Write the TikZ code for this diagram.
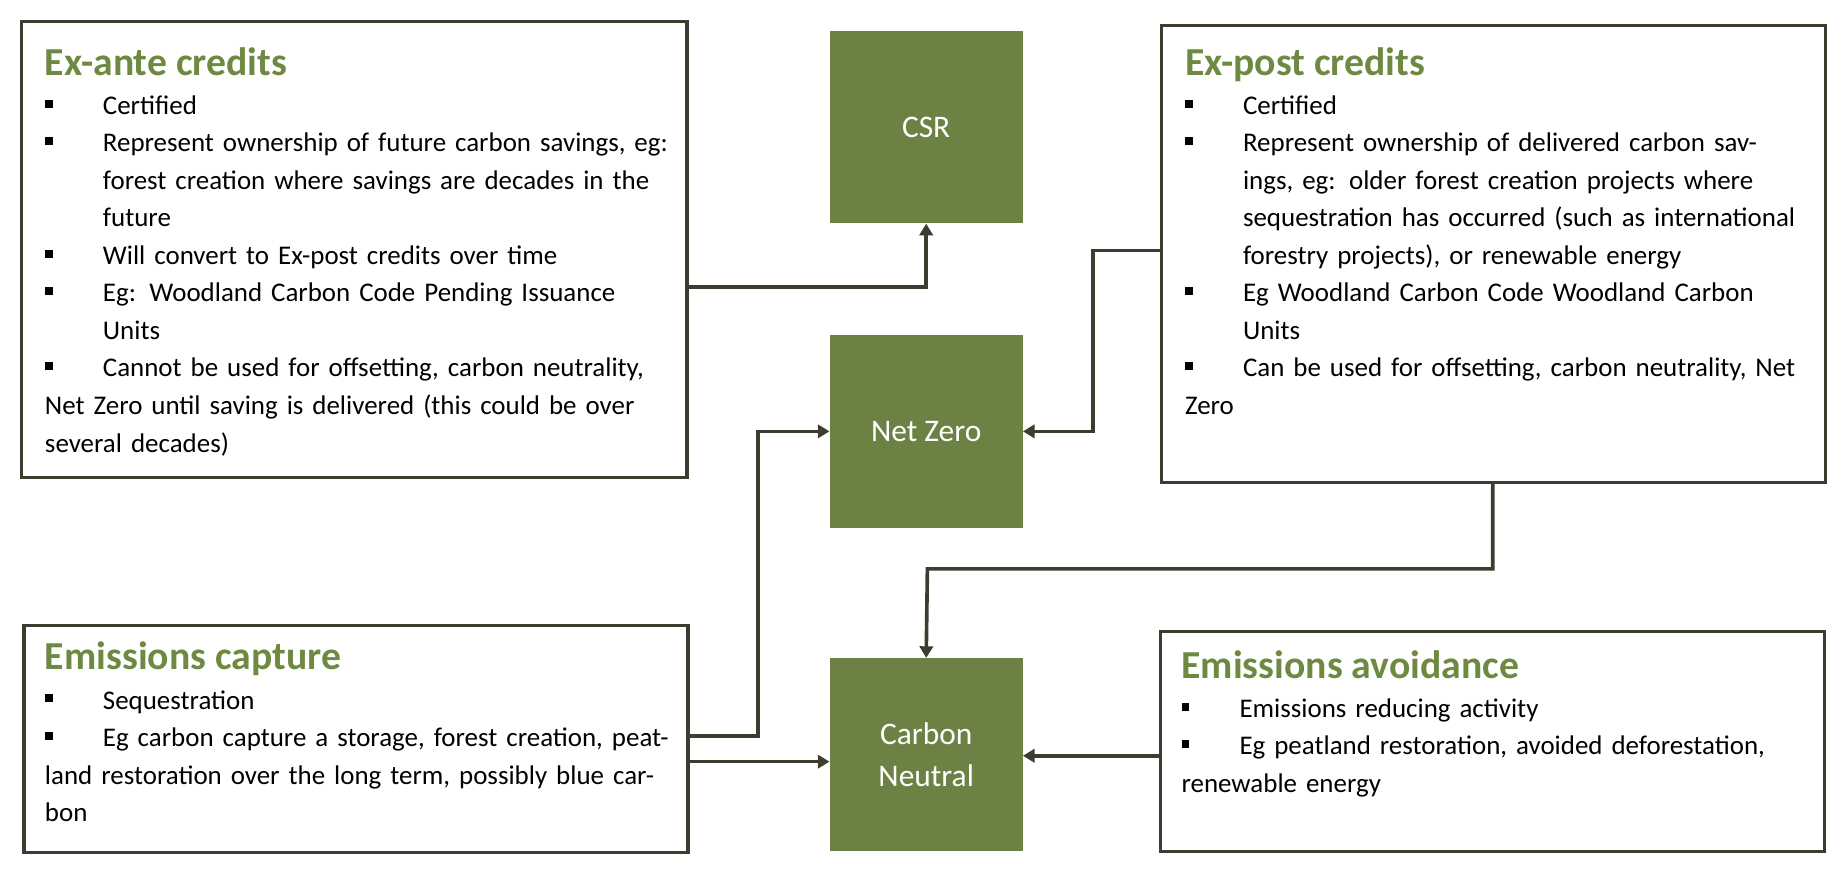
\documentclass[tikz,border=0pt]{standalone}
\usepackage{fontspec}
\setmainfont{Carlito}
\usetikzlibrary{arrows.meta, positioning, calc}
\definecolor{leaf}{RGB}{108,130,69}
\definecolor{leaftext}{RGB}{110,138,66}
\definecolor{bark}{RGB}{62,60,46}
\newcommand{\bitem}{\par\noindent\hangindent=2.15em\hangafter=1\makebox[2.15em][l]{\rule[0.25em]{0.28em}{0.3em}}}
\newcommand{\boxtitle}[1]{{\fontsize{24}{30}\selectfont\bfseries\color{leaftext}#1}\par\vspace{1pt}}

\begin{document}
\begin{tikzpicture}[x=0.025cm, y=-0.025cm,
    frame/.style={draw=bark, line width=2pt, anchor=north west, inner sep=0},
    goal/.style={fill=leaf, text=white, minimum width=4.1cm, minimum height=4.1cm, align=center, font=\fontsize{19}{25}\selectfont},
    body/.style={anchor=north west, inner sep=0, align=left, font=\fontsize{16.3}{22.7}\selectfont},
    link/.style={draw=bark, line width=2.2pt, -{Triangle[length=7pt,width=8pt]}}]
\useasboundingbox (0,0) rectangle (1568,746);

% Goals
\node[goal] (csr) at (788,108) {CSR};
\node[goal] (nz) at (788,367) {Net Zero};
\node[goal] (cn) at (788,642) {Carbon\\Neutral};

% Ex-ante
\node[frame, minimum width=14.15cm, minimum height=9.7cm] (ante) at (17,17) {};
\node[body, text width=13.4cm] at (38,40) {
    \boxtitle{Ex-ante credits}
    \bitem Certified
    \bitem Represent ownership of future carbon savings, eg: forest creation where savings are decades in the future
    \bitem Will convert to Ex-post credits over time
    \bitem Eg: Woodland Carbon Code Pending Issuance Units
    \bitem Cannot be used for offsetting, carbon neutrality, Net Zero until saving is delivered (this could be over several decades)
};

% Ex-post
\node[frame, minimum width=14.12cm, minimum height=9.72cm] (post) at (987,20) {};
\node[body, text width=13.2cm] at (1008,40) {
    \boxtitle{Ex-post credits}
    \bitem Certified
    \bitem Represent ownership of delivered carbon savings, eg: older forest creation projects where sequestration has occurred (such as international forestry projects), or renewable energy
    \bitem Eg Woodland Carbon Code Woodland Carbon Units
    \bitem Can be used for offsetting, carbon neutrality, Net Zero
};

% Emissions capture
\node[frame, minimum width=14.12cm, minimum height=4.82cm] (capture) at (19,531) {};
\node[body, text width=13.4cm] at (38,546) {
    \boxtitle{Emissions capture}
    \bitem Sequestration
    \bitem Eg carbon capture a storage, forest creation, peatland restoration over the long term, possibly blue carbon
};

% Emissions avoidance
\node[frame, minimum width=14.12cm, minimum height=4.68cm] (avoid) at (986,536) {};
\node[body, text width=13.2cm] at (1005,553) {
    \boxtitle{Emissions avoidance}
    \bitem Emissions reducing activity
    \bitem Eg peatland restoration, avoided deforestation, renewable energy
};

% Arrows
\draw[link] (ante.east |- 0,244) -| (csr.south);
\draw[link] (post.west |- 0,213) -- (930,213) |- (nz.east);
\draw[link] (post.south -| 1270,0) |- (789,484) -- (cn.north);
\draw[link] (capture.east |- 0,626) -- (645,626) |- (nz.west);
\draw[link] (capture.east |- 0,648) -- (cn.west |- 0,648);
\draw[link] (avoid.west |- 0,643) -- (cn.east |- 0,643);
\end{tikzpicture}
\end{document}
